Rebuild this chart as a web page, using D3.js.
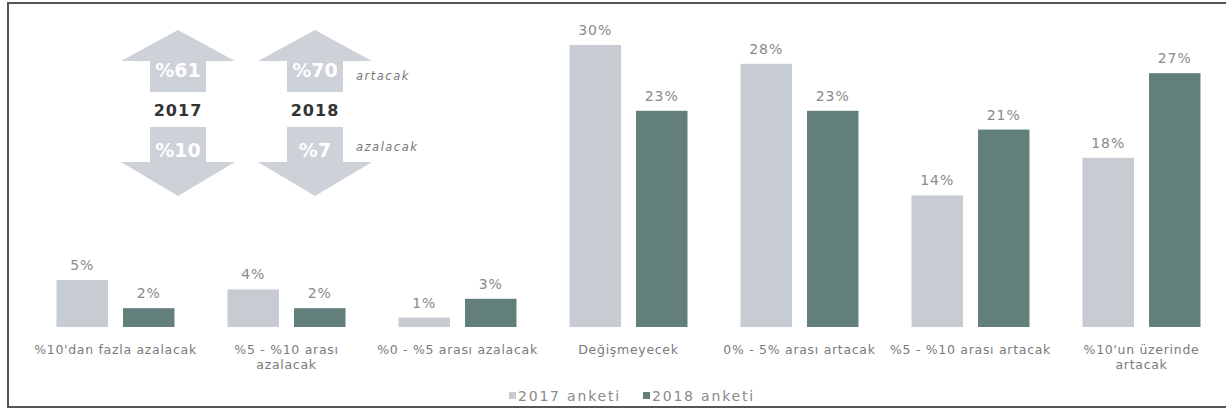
<!DOCTYPE html>
<html>
<head>
<meta charset="utf-8">
<script src="https://cdn.jsdelivr.net/npm/d3@7/dist/d3.min.js"></script>
<style>
  html, body { margin: 0; padding: 0; background: #fff; }
  svg { display: block; }
</style>
</head>
<body>
<svg id="chart" width="1226" height="411"></svg>
<script>
// ---- data ----
const categories = [
  "%10'dan fazla azalacak",
  "%5 - %10 arası|azalacak",
  "%0 - %5 arası azalacak",
  "Değişmeyecek",
  "0% - 5% arası artacak",
  "%5 - %10 arası artacak",
  "%10'un üzerinde|artacak"
];
const seriesNames = ["2017 anketi", "2018 anketi"];
const values2017 = [5, 4, 1, 30, 28, 14, 18];
const values2018 = [2, 2, 3, 23, 23, 21, 27];

// summary arrows (infographic)
const summaryYears = ["2017", "2018"];
const summaryUp = ["%61", "%70"];
const summaryDown = ["%10", "%7"];
const summaryWords = ["artacak", "azalacak"];

const colors = ["#c7ccd3", "#637f7b"];

const svg = d3.select("#chart");

// frame
svg.append("rect")
  .attr("x", 8).attr("y", 3)
  .attr("width", 1230).attr("height", 404)
  .attr("fill", "none").attr("stroke", "#555").attr("stroke-width", 2);

// scales
const x0 = d3.scaleBand().domain(categories).range([30, 1227]).paddingInner(0.31).paddingOuter(0.155);
const x1 = d3.scaleBand().domain(seriesNames).range([0, x0.bandwidth()]).paddingInner(0.226);
const y = d3.scaleLinear().domain([0, 30]).range([327, 45]);

const rows = categories.map((c, i) => ({cat: c, vals: [values2017[i], values2018[i]]}));

const g = svg.append("g");
const groups = g.selectAll("g.cat").data(rows).join("g")
  .attr("class", "cat")
  .attr("transform", d => `translate(${x0(d.cat)},0)`);

groups.selectAll("rect").data(d => d.vals.map((v, j) => ({v, s: seriesNames[j], j})))
  .join("rect")
  .attr("x", d => x1(d.s))
  .attr("y", d => y(d.v))
  .attr("width", x1.bandwidth())
  .attr("height", d => y(0) - y(d.v))
  .attr("fill", d => colors[d.j]);

groups.selectAll("text.val").data(d => d.vals.map((v, j) => ({v, s: seriesNames[j], j})))
  .join("text")
  .attr("class", "val")
  .attr("x", d => x1(d.s) + x1.bandwidth() / 2)
  .attr("y", d => y(d.v) - 10)
  .attr("text-anchor", "middle")
  .attr("font-family", "DejaVu Sans, Verdana, sans-serif")
  .attr("font-size", 14)
  .attr("letter-spacing", 1)
  .attr("fill", "#8a8a8a")
  .text(d => d.v + "%");

// category labels
groups.append("text")
  .attr("x", x0.bandwidth() / 2)
  .attr("y", 354)
  .attr("text-anchor", "middle")
  .attr("font-family", "DejaVu Sans, Verdana, sans-serif")
  .attr("font-size", 12.5)
  .attr("letter-spacing", 0.7)
  .attr("fill", "#7a7a7a")
  .each(function(d) {
    const lines = d.cat.split("|");
    d3.select(this).selectAll("tspan").data(lines).join("tspan")
      .attr("x", x0.bandwidth() / 2)
      .attr("dy", (l, i) => i === 0 ? 0 : 15)
      .text(l => l);
  });

// legend
const legend = svg.append("g").attr("transform", "translate(509,396)");
const legX = [0, 134];
seriesNames.forEach((s, i) => {
  legend.append("rect").attr("x", legX[i]).attr("y", -4).attr("width", 7).attr("height", 7).attr("fill", colors[i]);
  legend.append("text").attr("x", legX[i] + 9).attr("y", 5)
    .attr("font-family", "DejaVu Sans, Verdana, sans-serif")
    .attr("font-size", 14).attr("letter-spacing", 1.8)
    .attr("fill", "#8a8a8a").text(s);
});

// summary double arrows
const ax = d3.scalePoint().domain(summaryYears).range([178, 315]);
const headW = 114, shaftW = 56;
const arrowColor = "#cdd1d8";
summaryYears.forEach((yr, i) => {
  const cx = ax(yr);
  const up = [[cx, 30], [cx + headW / 2, 61], [cx + shaftW / 2, 61], [cx + shaftW / 2, 92],
              [cx - shaftW / 2, 92], [cx - shaftW / 2, 61], [cx - headW / 2, 61]];
  const down = [[cx - shaftW / 2, 127], [cx + shaftW / 2, 127], [cx + shaftW / 2, 162], [cx + headW / 2, 162],
                [cx, 196], [cx - headW / 2, 162], [cx - shaftW / 2, 162]];
  svg.append("path").attr("d", d3.line()(up) + "Z").attr("fill", arrowColor);
  svg.append("path").attr("d", d3.line()(down) + "Z").attr("fill", arrowColor);
  svg.append("text").attr("x", cx).attr("y", 77).attr("text-anchor", "middle")
    .attr("font-family", "DejaVu Sans, Verdana, sans-serif").attr("font-weight", "bold")
    .attr("font-size", 19).attr("fill", "#fff").text(summaryUp[i]);
  svg.append("text").attr("x", cx).attr("y", 157).attr("text-anchor", "middle")
    .attr("font-family", "DejaVu Sans, Verdana, sans-serif").attr("font-weight", "bold")
    .attr("font-size", 19).attr("fill", "#fff").text(summaryDown[i]);
  svg.append("text").attr("x", cx).attr("y", 116).attr("text-anchor", "middle")
    .attr("font-family", "DejaVu Sans, Verdana, sans-serif").attr("font-weight", "bold")
    .attr("font-size", 16).attr("letter-spacing", 1).attr("fill", "#333").text(yr);
});
const wordY = [80, 151];
summaryWords.forEach((w, i) => {
  svg.append("text").attr("x", 356).attr("y", wordY[i])
    .attr("font-family", "DejaVu Sans, Verdana, sans-serif").attr("font-style", "italic")
    .attr("font-size", 11.5).attr("letter-spacing", 1.5).attr("fill", "#777").text(w);
});
</script>
</body>
</html>
